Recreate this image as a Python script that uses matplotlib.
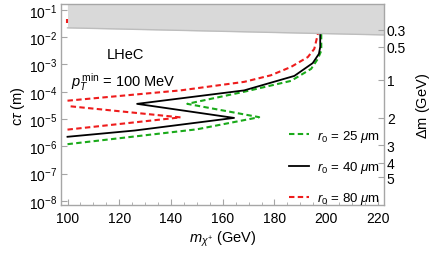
import matplotlib
matplotlib.use('Agg')
import matplotlib.pyplot as plt
from matplotlib.ticker import MultipleLocator, FixedLocator, NullLocator, LogLocator
from matplotlib.lines import Line2D

plt.rcParams['font.family'] = ['Liberation Sans', 'DejaVu Sans']
plt.rcParams['mathtext.fontset'] = 'custom'
plt.rcParams['mathtext.rm'] = 'Liberation Sans'
plt.rcParams['mathtext.it'] = 'Liberation Sans:italic'
plt.rcParams['mathtext.bf'] = 'Liberation Sans:bold'

# ---------------- data ----------------
r25_mass = [100, 150, 174.1, 146.3, 168.3, 186.4, 194.2, 196.8, 198.1, 198.1]
r25_ctau = [1.2e-6, 4.2e-6, 1.17e-5, 3.6e-5, 1.0e-4, 2.5e-4, 6.9e-4, 1.62e-3, 3.2e-3, 1.3e-2]

r40_mass = [100, 126, 164.4, 126.9, 168.3, 187.7, 194.8, 197.2, 197.7, 197.7]
r40_ctau = [2.24e-6, 3.8e-6, 1.1e-5, 3.6e-5, 1.12e-4, 3.8e-4, 1.12e-3, 2.45e-3, 4.4e-3, 1.3e-2]

r80_low_mass = [100, 143.7, 100]
r80_low_ctau = [4.1e-6, 1.15e-5, 3.0e-5]
r80_up_mass = [100, 143.7, 168.3, 178.6, 186.4, 192.9, 195.4, 196.5, 196.8]
r80_up_ctau = [4.7e-5, 1.12e-4, 2.3e-4, 4.0e-4, 8.1e-4, 1.86e-3, 3.7e-3, 1.0e-2, 1.3e-2]
r80_top_mass = [99.9, 99.9]
r80_top_ctau = [0.034, 0.047]

band_mass = [100, 223]
band_low = [0.0219, 0.0120]
band_high = [0.3, 0.3]

dm_labels = ['0.3', '0.5', '1', '2', '3', '4', '5']
dm_ctau = [10**-1.73, 10**-2.36, 10**-3.56, 10**-4.95, 10**-5.96, 10**-6.60, 10**-7.14]

x_ticks = [100, 120, 140, 160, 180, 200, 220]
legend_labels = [r'$r_0$ = 25 $\mu$m', r'$r_0$ = 40 $\mu$m', r'$r_0$ = 80 $\mu$m']

# ---------------- style ----------------
green = '#1aaa1a'
red = '#ee1c1c'
black = '#000000'
frame = '#a6a6a6'
dash = (0, (2.6, 1.6))
lw = 1.5
tfs = 10

fig = plt.figure(figsize=(4.36, 2.55), dpi=100)
ax = fig.add_axes([0.140, 0.192, 0.741, 0.788])

ax.fill_between(band_mass, band_low, band_high, color='#d9d9d9', lw=0, zorder=3)
ax.plot(band_mass, band_low, color='#bdbdbd', lw=1.0, zorder=3)

ax.plot(r80_low_mass, r80_low_ctau, color=red, lw=lw, ls=dash, zorder=2)
ax.plot(r80_up_mass, r80_up_ctau, color=red, lw=lw, ls=dash, zorder=2)
ax.plot(r80_top_mass, r80_top_ctau, color=red, lw=lw, ls='-', zorder=4,
        solid_capstyle='butt')
ax.plot(r25_mass, r25_ctau, color=green, lw=lw, ls=dash, zorder=2)
ax.plot(r40_mass, r40_ctau, color=black, lw=1.3, zorder=2)

ax.set_yscale('log')
ax.set_xlim(97.5, 222.4)
ax.set_ylim(10**-8.15, 10**-0.79)

ax.xaxis.set_major_locator(FixedLocator(x_ticks))
ax.xaxis.set_minor_locator(MultipleLocator(5))
ax.yaxis.set_major_locator(LogLocator(base=10, numticks=20))
ax.yaxis.set_minor_locator(NullLocator())

for s in ax.spines.values():
    s.set_color(frame)
    s.set_linewidth(1.0)
    s.set_zorder(5)

ax.tick_params(which='both', direction='in', colors=frame, labelcolor='black',
               labelsize=tfs, top=True, right=False)
ax.tick_params(which='major', length=4, width=0.8)
ax.tick_params(which='minor', length=2.2, width=0.6)
ax.tick_params(axis='x', pad=4)
ax.tick_params(axis='y', pad=3)

ax.set_xlabel(r'$m_{\chi^{+}}$ (GeV)', fontsize=10.5, labelpad=3)
ax.set_ylabel(r'c$\tau$ (m)', fontsize=10.5, labelpad=1)

ax2 = ax.twinx()
ax2.set_yscale('log')
ax2.set_ylim(ax.get_ylim())
ax2.yaxis.set_major_locator(FixedLocator(dm_ctau))
ax2.yaxis.set_minor_locator(NullLocator())
ax2.set_yticklabels(dm_labels)
ax2.tick_params(which='both', direction='in', colors=frame, labelcolor='black',
                labelsize=tfs, length=4, width=0.8, pad=2)
for s in ax2.spines.values():
    s.set_visible(False)
ax2.set_ylabel(r'$\Delta$m (GeV)', fontsize=10.5, labelpad=6)

ax.text(122.5, 10**-2.6, 'LHeC', fontsize=10.5, ha='center', va='center')
ax.text(101.5, 10**-3.62, r'$p_T^{\,\mathrm{min}}$ = 100 MeV', fontsize=10.5,
        ha='left', va='center')

handles = [Line2D([], [], color=green, lw=lw, ls=dash),
           Line2D([], [], color=black, lw=1.3),
           Line2D([], [], color=red, lw=lw, ls=dash)]
leg = ax.legend(handles, legend_labels, loc='lower right', frameon=False,
                fontsize=9.5, handlelength=1.5, handletextpad=0.6,
                labelspacing=1.15, borderaxespad=0.0, borderpad=0.35,
                bbox_to_anchor=(1.0, -0.03))
leg.set_zorder(6)

fig.savefig('out.png', dpi=100)
